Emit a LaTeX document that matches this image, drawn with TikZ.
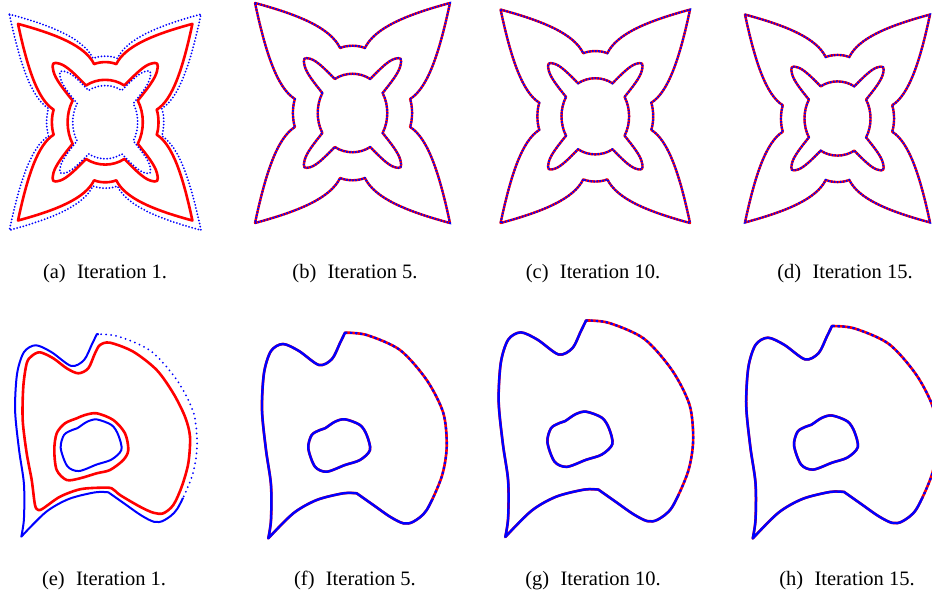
\documentclass[tikz,border=0pt]{standalone}
\usepackage{fontspec}
\setmainfont{Liberation Serif}
\newcommand\starouter[1]{\draw[#1] (-110,-110) .. controls (-60,-98) and (-25,-85) .. (-14,-65) .. controls (-6,-68) and (6,-68) .. (14,-65) .. controls (25,-85) and (60,-98) .. (110,-110) .. controls (98,-60) and (85,-25) .. (65,-14) .. controls (68,-6) and (68,6) .. (65,14) .. controls (85,25) and (98,60) .. (110,110) .. controls (60,98) and (25,85) .. (14,65) .. controls (6,68) and (-6,68) .. (-14,65) .. controls (-25,85) and (-60,98) .. (-110,110) .. controls (-98,60) and (-85,25) .. (-65,14) .. controls (-68,6) and (-68,-6) .. (-65,-14) .. controls (-85,-25) and (-98,-60) .. (-110,-110) -- cycle;}
\newcommand\starinner[1]{\draw[#1] (-34,-20) .. controls (-44,-31) and (-52,-40) .. (-54,-47) .. controls (-56,-55) and (-55,-56) .. (-47,-54) .. controls (-40,-52) and (-31,-44) .. (-20,-34) .. controls (-8,-41) and (8,-41) .. (20,-34) .. controls (31,-44) and (40,-52) .. (47,-54) .. controls (55,-56) and (56,-55) .. (54,-47) .. controls (52,-40) and (44,-31) .. (34,-20) .. controls (41,-8) and (41,8) .. (34,20) .. controls (44,31) and (52,40) .. (54,47) .. controls (56,55) and (55,56) .. (47,54) .. controls (40,52) and (31,44) .. (20,34) .. controls (8,41) and (-8,41) .. (-20,34) .. controls (-31,44) and (-40,52) .. (-47,54) .. controls (-55,56) and (-56,55) .. (-54,47) .. controls (-52,40) and (-44,31) .. (-34,20) .. controls (-41,8) and (-41,-8) .. (-34,-20) -- cycle;}
\newcommand\bottomouter[1]{\draw[#1] plot[smooth] coordinates {(-86.7,103.3) (-84,85) (-84,50) (-89,15) (-93,-25) (-91,-62) (-84,-84) (-72,-91) (-56,-84) (-36,-70) (-23,-76) (-15,-92) (-10,-102.3)} -- plot[smooth] coordinates {(-10,-102.3) (11.7,-100) (45,-85) (71.7,-55) (88.3,-22) (91.7,11.7) (86.7,41.7) (71.7,75) (58.3,86.7) (48.3,88.3) (35,81.7) (18.3,70) (1.7,58.3)} -- plot[smooth] coordinates {(1.7,58.3) (-11.7,58.3) (-38.3,65) (-61.7,78.3) (-86.7,103.3)} -- cycle;}
\newcommand\bottominner[1]{\draw[#1] plot[smooth cycle] coordinates {(-30,-6.7) (-20,-13.3) (-10,-15.7) (5,-10) (11.7,0) (15,15) (5,25) (-10,30) (-28.3,36.7) (-40,31.7) (-46.7,13.3) (-43.3,0) (-35,-5)};}
\newcommand\bottomblue[2]{%
  \begin{scope}
    \clip (-200,-200) -- (-10,-200) -- (-10,-140) -- (0,56) -- (140,70) -- (200,70) -- (200,200) -- (-200,200) -- cycle;
    \bottomouter{#1}
  \end{scope}
  \begin{scope}
    \clip (-10,-140) -- (140,-140) -- (140,70) -- (0,56) -- cycle;
    \bottomouter{#2}
  \end{scope}}
\begin{document}
\begin{tikzpicture}[x=1pt,y=-1pt,
  redline/.style={draw=red, line width=2.6pt, line join=round},
  redthin/.style={draw=red, line width=2.4pt, line join=round},
  bluedot/.style={draw=blue, line width=2pt, line cap=round, dash pattern=on 0pt off 3.2pt},
  bluedash/.style={draw=blue, line width=2pt, dash pattern=on 1.5pt off 1.5pt},
  bluedots/.style={draw=blue, line width=2pt, line cap=round, dash pattern=on 0pt off 5pt},
  bluebottomdash/.style={draw=blue, line width=2.2pt, dash pattern=on 2.5pt off 2.5pt},
  blueline/.style={draw=blue, line width=2pt, line join=round},
  bluethick/.style={draw=blue, line width=2.4pt, line join=round},
  capt/.style={font=\fontsize{20.5}{24}\selectfont, anchor=base, inner sep=0pt}]
\useasboundingbox (0,0) rectangle (932,594);
% (a)
\begin{scope}[shift={(105.2,122.2)}, xscale=0.871, yscale=0.982]
  \starouter{bluedot}
  \begin{scope}[scale=0.91]\starouter{redline}\end{scope}
  \begin{scope}[scale=1.1]\starinner{redline}\end{scope}
  \begin{scope}[scale=0.95]\starinner{bluedot}\end{scope}
\end{scope}
% (b)
\begin{scope}[shift={(352.5,113)}, xscale=0.886, yscale=1]
  \starouter{redthin}\starouter{bluedash}
  \starinner{redthin}\starinner{bluedash}
\end{scope}
% (c)
\begin{scope}[shift={(595.3,116.3)}, xscale=0.861, yscale=0.970]
  \starouter{redthin}\starouter{bluedash}
  \starinner{redthin}\starinner{bluedash}
\end{scope}
% (d)
\begin{scope}[shift={(837.5,118.5)}, xscale=0.841, yscale=0.945]
  \starouter{redthin}\starouter{bluedash}
  \starinner{redthin}\starinner{bluedash}
\end{scope}
% (e)
\draw[redline] plot[smooth cycle] coordinates {(40,352.3) (53.3,358.3) (66.7,368.3) (78.3,373.3) (88.3,368.3) (95,353.3) (100,345) (110,342.7) (133.3,351.7) (156.7,370) (173.3,393.3) (185,416.7) (190,436.7) (188.3,463.3) (181.7,486.7) (173.3,505) (163.3,513.3) (153.3,512.7) (140,506.7) (120,495) (111.7,488.3) (100,487.7) (80,489.3) (60,496.7) (43.3,508.3) (38.3,510) (35,505) (31.7,480) (26.7,453.3) (22.7,420) (23.3,386.7) (26.7,363.3) (31.7,356)};
\draw[redline] plot[smooth cycle] coordinates {(96.7,413.3) (113.3,420) (125,433.3) (128.3,450) (123.3,460) (110,470) (96.7,473.3) (80,478.3) (66.7,480) (56.7,470) (54.3,450) (56.7,433.3) (65,423.3) (76.7,418.3) (85,415)};
\begin{scope}[shift={(106.7,434.9)}, scale=0.985]
  \bottomblue{blueline}{bluedots}
  \bottominner{blueline}
\end{scope}
% (f)
\begin{scope}[shift={(355,435)}]
  \bottomouter{redline}\bottominner{redline}
  \bottomblue{bluethick}{bluebottomdash}
  \bottominner{bluethick}
\end{scope}
% (g)
\begin{scope}[shift={(596.6,428.2)}, scale=1.053]
  \bottomouter{redline}\bottominner{redline}
  \bottomblue{bluethick}{bluebottomdash}
  \bottominner{bluethick}
\end{scope}
% (h)
\begin{scope}[shift={(842.3,431.7)}, scale=1.033]
  \bottomouter{redline}\bottominner{redline}
  \bottomblue{bluethick}{bluebottomdash}
  \bottominner{bluethick}
\end{scope}
% captions
\node[capt] (capa) at (105,278.5) {(a)\hspace{0.55em}Iteration 1.};
\node[capt] (capb) at (355,278.5) {(b)\hspace{0.55em}Iteration 5.};
\node[capt] (capc) at (593,278.5) {(c)\hspace{0.55em}Iteration 10.};
\node[capt] (capd) at (845,278.5) {(d)\hspace{0.55em}Iteration 15.};
\node[capt] (cape) at (104,585) {(e)\hspace{0.55em}Iteration 1.};
\node[capt] (capf) at (355,585) {(f)\hspace{0.55em}Iteration 5.};
\node[capt] (capg) at (593,585) {(g)\hspace{0.55em}Iteration 10.};
\node[capt] (caph) at (847,585) {(h)\hspace{0.55em}Iteration 15.};
\end{tikzpicture}
\end{document}
